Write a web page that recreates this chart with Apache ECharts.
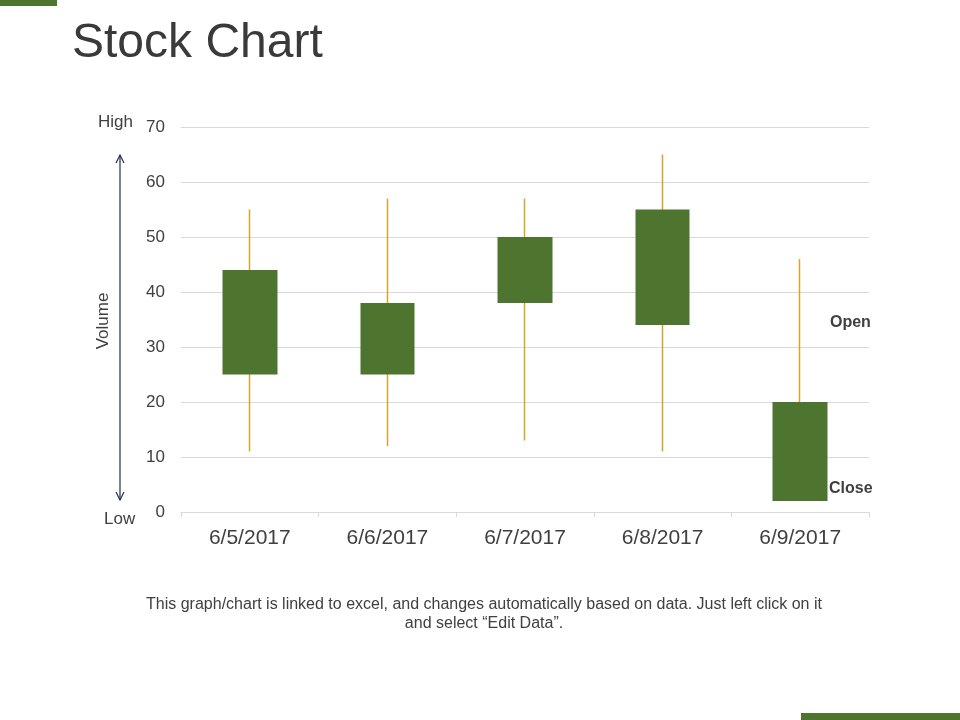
<!DOCTYPE html>
<html>
<head>
<meta charset="utf-8">
<script src="https://cdn.jsdelivr.net/npm/echarts@6/dist/echarts.min.js"></script>
<style>
html,body{margin:0;padding:0;background:#fff}
#chart{width:960px;height:720px}
</style>
</head>
<body>
<div id="chart"></div>
<script>
// data
var dates = ['6/5/2017', '6/6/2017', '6/7/2017', '6/8/2017', '6/9/2017']
var opens = [25, 25, 38, 34, 20]
var closes = [44, 38, 50, 55, 2]
var lows = [11, 12, 13, 11, 2]
var highs = [55, 57, 57, 65, 46]
var yTicks = [0, 10, 20, 30, 40, 50, 60, 70]

var green = '#4E7530'
var gold = '#D4A52A'
var font = '"Liberation Sans", Arial, sans-serif'

var wickData = [], bodyData = []
dates.forEach((d, i) => {
    wickData.push([opens[i], closes[i], lows[i], highs[i]])
    bodyData.push([opens[i], closes[i], Math.min(opens[i], closes[i]), Math.max(opens[i], closes[i])])
})

var echart = echarts.init(document.getElementById('chart'))
var options = {
    animation: false,
    textStyle: {fontFamily: font},
    grid: {left: 181, right: 91, top: 127, bottom: 208},
    xAxis: {
        type: 'category',
        data: dates,
        boundaryGap: true,
        axisLine: {lineStyle: {color: '#d9d9d9'}},
        axisTick: {show: true, length: 5, lineStyle: {color: '#d9d9d9'}},
        axisLabel: {color: '#404040', fontSize: 21, margin: 16, fontFamily: font}
    },
    yAxis: {
        type: 'value',
        min: yTicks[0],
        max: yTicks[yTicks.length - 1],
        interval: 10,
        axisLine: {show: false},
        axisTick: {show: false},
        axisLabel: {color: '#404040', fontSize: 17, margin: 16, fontFamily: font},
        splitLine: {lineStyle: {color: '#d9d9d9'}}
    },
    series: [
        {
            name: 'wick',
            type: 'candlestick',
            data: wickData,
            barWidth: 1,
            itemStyle: {color: gold, color0: gold, borderColor: gold, borderColor0: gold, borderWidth: 1.5}
        },
        {
            name: 'body',
            type: 'candlestick',
            data: bodyData,
            barWidth: 55,
            z: 3,
            itemStyle: {color: green, color0: green, borderColor: green, borderColor0: green, borderWidth: 0}
        }
    ],
    graphic: [
        {type: 'rect', left: 0, top: 0, shape: {width: 57, height: 6}, style: {fill: green}},
        {type: 'rect', left: 801, top: 713, shape: {width: 159, height: 7}, style: {fill: green}},
        {type: 'text', left: 72, top: 20, style: {text: 'Stock Chart', fontSize: 48, fill: '#3a3a3a', fontFamily: font}},
        {type: 'text', left: 98, top: 114, style: {text: 'High', fontSize: 17, fill: '#404040', fontFamily: font}},
        {type: 'text', left: 104, top: 511, style: {text: 'Low', fontSize: 17, fill: '#404040', fontFamily: font}},
        {type: 'text', x: 103, y: 321, rotation: Math.PI / 2, style: {text: 'Volume', fontSize: 17, fill: '#404040', fontFamily: font, align: 'center', verticalAlign: 'middle'}},
        {type: 'line', shape: {x1: 120, y1: 155, x2: 120, y2: 500}, style: {stroke: '#1F3050', lineWidth: 1.2}},
        {type: 'polyline', shape: {points: [[116, 163], [120, 155], [124, 163]]}, style: {stroke: '#1F3050', lineWidth: 1.2, fill: null}},
        {type: 'polyline', shape: {points: [[116, 492], [120, 500], [124, 492]]}, style: {stroke: '#1F3050', lineWidth: 1.2, fill: null}},
        {type: 'text', left: 830, top: 315, style: {text: 'Open', fontSize: 16, fontWeight: 'bold', fill: '#404040', fontFamily: font}},
        {type: 'text', left: 829, top: 481, style: {text: 'Close', fontSize: 16, fontWeight: 'bold', fill: '#404040', fontFamily: font}},
        {type: 'text', x: 484, y: 614, style: {text: 'This graph/chart is linked to excel, and changes automatically based on data. Just left click on it\nand select \u201cEdit Data\u201d.', fontSize: 16, lineHeight: 19, fill: '#404040', fontFamily: font, align: 'center', verticalAlign: 'middle'}}
    ]
}
echart.setOption(options)
</script>
</body>
</html>
